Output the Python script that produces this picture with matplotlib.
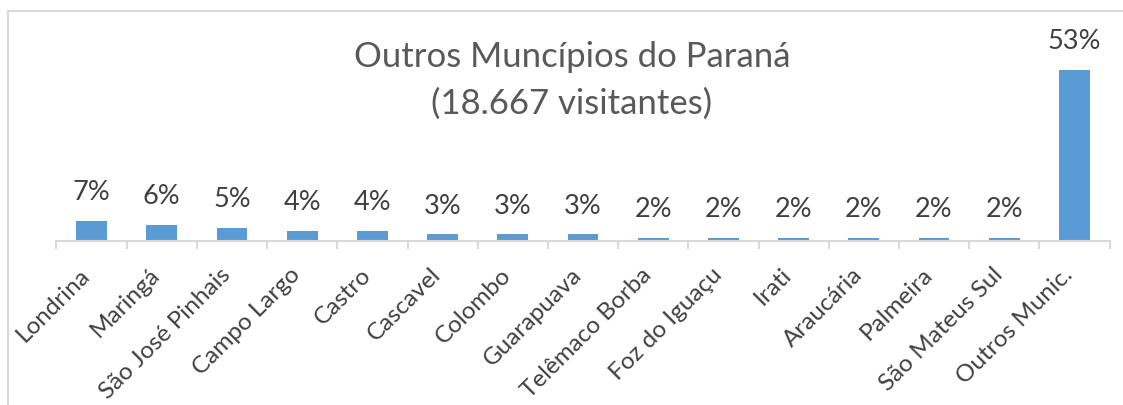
import matplotlib
matplotlib.use("Agg")
import matplotlib.pyplot as plt
from matplotlib.lines import Line2D
from matplotlib.transforms import ScaledTranslation

plt.rcParams['font.family'] = ['Lato', 'DejaVu Sans']

# Municipalities and their share of visitors (%)
municipios = ["Londrina", "Maringá", "São José Pinhais", "Campo Largo", "Castro",
              "Cascavel", "Colombo", "Guarapuava", "Telêmaco Borba", "Foz do Iguaçu",
              "Irati", "Araucária", "Palmeira", "São Mateus Sul", "Outros Munic."]
percentuais = [7, 6, 5, 4, 4, 3, 3, 3, 2, 2, 2, 2, 2, 2, 53]
titulo = "Outros Muncípios do Paraná"
subtitulo = "(18.667 visitantes)"

W, H = 1123, 405
fig = plt.figure(figsize=(W / 100, H / 100), dpi=100)
fig.patch.set_facecolor("white")

left_px, right_px = 56.5, 1109.5
bottom_px, top_px = 241, 20
ax = fig.add_axes([left_px / W, 1 - bottom_px / H,
                   (right_px - left_px) / W, (bottom_px - top_px) / H])

BAR = "#5B9BD5"
GRID = "#D9D9D9"
TXT = "#404040"

x = list(range(len(municipios)))
ax.bar(x, percentuais, width=0.44, color=BAR)

ymin = 1.0
ax.set_ylim(ymin, ymin + (bottom_px - top_px) / 3.29)
ax.set_xlim(-0.5, len(municipios) - 0.5)

for xi, v in zip(x, percentuais):
    ax.annotate(f"{v}%", xy=(xi, v), xytext=(0, 15), textcoords="offset points",
                ha="center", va="baseline", fontsize=19.5, color=TXT)

for s in ["left", "right", "top"]:
    ax.spines[s].set_visible(False)
ax.spines["bottom"].set_color(GRID)
ax.spines["bottom"].set_linewidth(1.5)
ax.set_yticks([])

ax.set_xticks(x)
ax.set_xticklabels(municipios, rotation=45, ha="right", va="center",
                   rotation_mode="anchor", fontsize=17.5, color=TXT)
ax.tick_params(axis="x", which="major", length=0, pad=22)
shift = ScaledTranslation(-5 / 100, 0, fig.dpi_scale_trans)
for lbl in ax.get_xticklabels():
    lbl.set_transform(lbl.get_transform() + shift)
ax.set_xticks([i - 0.5 for i in range(len(municipios) + 1)], minor=True)
ax.tick_params(axis="x", which="minor", length=6, width=1.5, color=GRID)

cx = 572 / W
fig.text(cx, 1 - 67 / H, titulo, ha="center", va="baseline", fontsize=25, color="#595959")
fig.text(cx, 1 - 114 / H, subtitulo, ha="center", va="baseline", fontsize=25, color="#595959")

# chart frame (left and top edges)
fig.add_artist(Line2D([7.5 / W, 7.5 / W], [0, 1 - 11 / H], transform=fig.transFigure,
                      color=GRID, lw=1.5))
fig.add_artist(Line2D([7.5 / W, 1], [1 - 11 / H, 1 - 11 / H], transform=fig.transFigure,
                      color=GRID, lw=1.5))

fig.savefig("out.png", dpi=100, facecolor="white")
